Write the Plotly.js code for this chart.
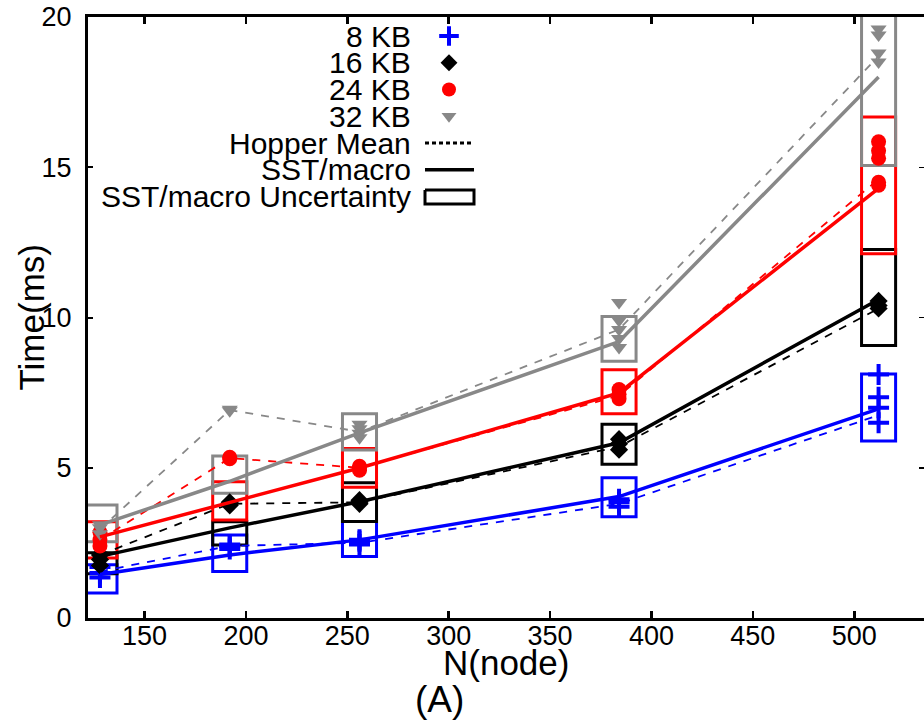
<!DOCTYPE html>
<html><head><meta charset="utf-8">
<script src="https://cdn.plot.ly/plotly-3.0.1.min.js"></script>
<style>html,body{margin:0;padding:0;background:#fff}#chart{width:924px;height:723px}</style>
</head><body><div id="chart"></div>
<script>
// ---------- DATA ----------
const nodes = [128, 192, 256, 384, 512];
const xTickVals = [150, 200, 250, 300, 350, 400, 450, 500];
const yTickVals = [0, 5, 10, 15, 20];
const seriesNames = ['8 KB', '16 KB', '24 KB', '32 KB'];

// Hopper measured samples per node count
const samples8  = [[1.35, 1.5, 1.7], [2.3, 2.4, 2.45], [2.45, 2.55, 2.6], [3.7, 3.85, 3.95], [6.5, 7.0, 7.35, 8.1]];
const samples16 = [[1.75, 1.95, 2.1], [3.75, 3.8, 3.85], [3.8, 3.86, 3.92], [5.6, 5.8, 5.95], [10.3, 10.4, 10.55]];
const samples24 = [[2.4, 2.6, 2.85], [5.3, 5.35], [4.92, 5.0, 5.05], [7.3, 7.45, 7.6], [14.4, 14.5, 15.3, 15.55, 15.85]];
const samples32 = [[2.8, 3.0, 3.1], [6.9, 6.95], [6.0, 6.15, 6.3, 6.45], [9.0, 9.3, 9.6, 9.9, 10.5], [18.5, 18.8, 19.4, 19.6]];

// Hopper mean (dashed)
const hopper8  = [1.55, 2.4, 2.5, 3.8, 6.75];
const hopper16 = [2.1, 3.8, 3.85, 5.7, 10.3];
const hopper24 = [2.6, 5.32, 5.0, 7.4, 14.6];
const hopper32 = [2.95, 6.92, 6.2, 9.6, 18.7];

// SST/macro mean (solid)
const sst8  = [1.45, 2.1, 2.6, 4.04, 6.96];
const sst16 = [2.05, 3.0, 3.87, 5.83, 10.6];
const sst24 = [2.7, 3.85, 4.99, 7.49, 14.3];
const sst32 = [3.1, 4.55, 6.16, 9.2, 18.0];

// SST/macro uncertainty (low / high)
const uncLo8  = [0.83, 1.55, 2.05, 3.37, 5.89];
const uncHi8  = [1.77, 2.76, 3.21, 4.67, 8.12];
const uncLo16 = [1.47, 2.43, 3.21, 5.12, 9.07];
const uncHi16 = [2.17, 3.2, 4.5, 6.45, 12.26];
const uncLo24 = [2.0, 3.26, 4.35, 6.8, 12.12];
const uncHi24 = [3.2, 4.53, 5.64, 8.26, 16.67];
const uncLo32 = [2.54, 4.15, 5.59, 8.54, 15.06];
const uncHi32 = [3.76, 5.39, 6.8, 10.03, 20.6];

const legendLabels = ['8 KB', '16 KB', '24 KB', '32 KB', 'Hopper Mean', 'SST/macro', 'SST/macro Uncertainty'];

// ---------- STYLE ----------
const colors = ['#0000ff', '#000000', '#ff0000', '#888888'];
const symbols = ['cross-thin', 'diamond', 'circle', 'triangle-down'];
const msizes = [15, 14, 15, 14];
const FONT = 'Liberation Sans, Arial, Helvetica, sans-serif';

const allSamples = [samples8, samples16, samples24, samples32];
const allHopper = [hopper8, hopper16, hopper24, hopper32];
const allSst = [sst8, sst16, sst24, sst32];
const allLo = [uncLo8, uncLo16, uncLo24, uncLo32];
const allHi = [uncHi8, uncHi16, uncHi24, uncHi32];

function markerFor(i, size) {
  const m = {symbol: symbols[i], size: size || msizes[i], color: colors[i]};
  if (symbols[i] === 'cross-thin') m.line = {color: colors[i], width: 4};
  else m.line = {width: 0};
  return m;
}

const traces = [];
// uncertainty boxes
for (let i = 0; i < 4; i++) {
  traces.push({
    type: 'bar', x: nodes,
    y: allHi[i].map((h, k) => h - allLo[i][k]),
    base: allLo[i], width: 16.8,
    marker: {color: 'rgba(0,0,0,0)', line: {color: colors[i], width: 3}},
    hoverinfo: 'skip', showlegend: false
  });
}
// hopper mean dashed
for (let i = 0; i < 4; i++) {
  traces.push({
    type: 'scatter', mode: 'lines', x: nodes, y: allHopper[i],
    line: {color: colors[i], width: 1.8, dash: '8px,8px'},
    hoverinfo: 'skip', showlegend: false
  });
}
// samples
for (let i = 0; i < 4; i++) {
  const xs = [], ys = [];
  allSamples[i].forEach((arr, k) => arr.forEach(v => { xs.push(nodes[k]); ys.push(v); }));
  traces.push({
    type: 'scatter', mode: 'markers', x: xs, y: ys, name: seriesNames[i],
    marker: markerFor(i), showlegend: false, cliponaxis: false
  });
}
// sst mean solid
for (let i = 0; i < 4; i++) {
  traces.push({
    type: 'scatter', mode: 'lines', x: nodes, y: allSst[i],
    line: {color: colors[i], width: 3.5},
    hoverinfo: 'skip', showlegend: false
  });
}
// dummy trace for the right-hand tick axis
traces.push({type: 'scatter', mode: 'markers', x: [null], y: [null], yaxis: 'y2', showlegend: false, hoverinfo: 'skip'});

// ---------- manual legend (text right, key on the right) ----------
const legTextX = 413, legKeyX = 449, legLineX0 = 425, legLineX1 = 474;
const legRow0 = 36, legRowStep = 26.75;
const rowY = r => legRow0 + legRowStep * r;
for (let i = 0; i < 4; i++) {
  traces.push({type: 'scatter', mode: 'markers', x: [legKeyX], y: [rowY(i)], xaxis: 'x3', yaxis: 'y3',
    marker: markerFor(i, i === 3 ? 13 : msizes[i] - 1), showlegend: false, hoverinfo: 'skip', cliponaxis: false});
}
traces.push({type: 'scatter', mode: 'lines', x: [legLineX0, legLineX1], y: [rowY(4), rowY(4)], xaxis: 'x3', yaxis: 'y3',
  line: {color: '#000', width: 3, dash: '4px,3px'}, showlegend: false, hoverinfo: 'skip'});
traces.push({type: 'scatter', mode: 'lines', x: [legLineX0, legLineX1], y: [rowY(5), rowY(5)], xaxis: 'x3', yaxis: 'y3',
  line: {color: '#000', width: 3.5}, showlegend: false, hoverinfo: 'skip'});
const bt = rowY(6) - 6.5, bb = rowY(6) + 7.5;
traces.push({type: 'scatter', mode: 'lines', x: [legLineX0, legLineX1, legLineX1, legLineX0, legLineX0],
  y: [bt, bt, bb, bb, bt], xaxis: 'x3', yaxis: 'y3',
  line: {color: '#000', width: 3}, showlegend: false, hoverinfo: 'skip'});

const annotations = legendLabels.map((t, r) => ({
  text: t, xref: 'x3', yref: 'y3', x: legTextX, y: rowY(r), xanchor: 'right', yanchor: 'middle',
  showarrow: false, font: {family: FONT, size: 30, color: '#000'}
}));
annotations.push({text: 'Time(ms)', xref: 'paper', yref: 'paper', x: 0, y: 0.5, xshift: -57,
  xanchor: 'center', yanchor: 'middle', textangle: -90, showarrow: false, font: {family: FONT, size: 35, color: '#000'}});
annotations.push({text: 'N(node)', xref: 'paper', yref: 'paper', x: 0.5, y: 0, yshift: -44,
  xanchor: 'center', yanchor: 'middle', showarrow: false, font: {family: FONT, size: 35, color: '#000'}});
annotations.push({text: '(A)', xref: 'paper', yref: 'paper', x: 0.421, y: 0, yshift: -104,
  xanchor: 'center', yanchor: 'bottom', showarrow: false, font: {family: FONT, size: 37, color: '#000'}});

const layout = {
  width: 924, height: 723,
  margin: {l: 88, r: 0, t: 17, b: 105},
  paper_bgcolor: '#fff', plot_bgcolor: '#fff',
  font: {family: FONT, color: '#000'},
  showlegend: false, barmode: 'overlay',
  xaxis: {
    range: [122.1, 534.4], tickvals: xTickVals, ticktext: xTickVals.map(String),
    ticks: 'inside', ticklen: 7, tickwidth: 2.5, tickcolor: '#000',
    showline: true, linewidth: 3, linecolor: '#000', mirror: 'ticks',
    showgrid: false, zeroline: false, tickfont: {size: 27, family: FONT},
    ticklabelstandoff: -8
  },
  yaxis: {
    range: [0, 20], tickvals: yTickVals, ticktext: yTickVals.map(String),
    ticks: 'inside', ticklen: 5, tickwidth: 2, tickcolor: '#000',
    showline: true, linewidth: 3, linecolor: '#000',
    showgrid: false, zeroline: false, tickfont: {size: 27, family: FONT},
    ticklabelstandoff: 8
  },
  yaxis2: {
    overlaying: 'y', side: 'right', range: [0, 20], tickvals: yTickVals,
    ticks: 'inside', ticklen: 5, tickwidth: 1.5, tickcolor: '#000',
    showline: false, showticklabels: false, showgrid: false, zeroline: false
  },
  xaxis3: {overlaying: 'x', anchor: 'y3', range: [88, 924], visible: false},
  yaxis3: {overlaying: 'y', anchor: 'x3', range: [618, 17], visible: false},
  annotations: annotations
};

Plotly.newPlot('chart', traces, layout, {displayModeBar: false, staticPlot: true});
</script></body></html>
